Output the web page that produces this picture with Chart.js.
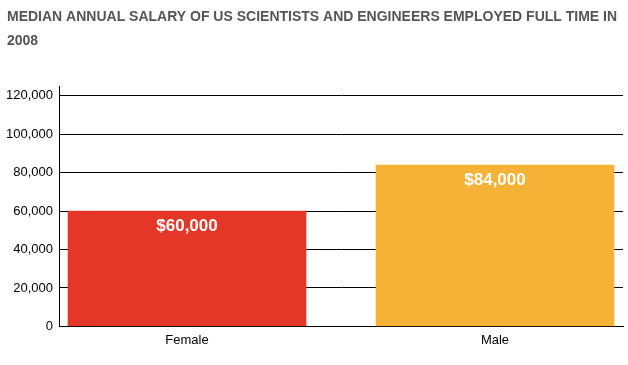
<!DOCTYPE html>
<html>
<head>
<meta charset="utf-8">
<script src="https://cdn.jsdelivr.net/npm/chart.js@4/dist/chart.umd.min.js"></script>
<style>
  html, body { margin: 0; padding: 0; background: #fff; }
  #wrap { width: 628px; height: 365px; }
</style>
</head>
<body>
<div id="wrap"><canvas id="myChart" width="628" height="365"></canvas></div>
<script>
// datos
const categorias = ["Female", "Male"];
const salarios = [60000, 84000];
const colores = ["#e43727", "#f6b236"];
const marcasY = [0, 20000, 40000, 60000, 80000, 100000, 120000];
const titulo = ["MEDIAN ANNUAL SALARY OF US SCIENTISTS AND ENGINEERS EMPLOYED FULL TIME IN", "2008"];

const fuente = "'Liberation Sans', Arial, Helvetica, sans-serif";

// etiquetas blancas dentro de las barras
const etiquetas = {
  id: "etiquetas",
  afterDatasetsDraw(chart) {
    const ctx = chart.ctx;
    const meta = chart.getDatasetMeta(0);
    ctx.save();
    ctx.fillStyle = "#fff";
    ctx.font = "bold 17px " + fuente;
    ctx.textAlign = "center";
    ctx.textBaseline = "middle";
    meta.data.forEach((bar, i) => {
      ctx.fillText("$" + salarios[i].toLocaleString("en-US"), bar.x, bar.y + 15);
    });
    ctx.restore();
  }
};

const data = {
  datasets: [
    {
      label: "Salary",
      data: salarios.map((v, i) => ({ x: i, y: v })),
      backgroundColor: colores,
      borderWidth: 0,
      barThickness: 238,
    },
  ],
};

const config = {
  type: "bar",
  data,
  options: {
    responsive: false,
    animation: false,
    layout: { padding: { left: 7, right: 5, top: 0, bottom: 11 } },
    plugins: {
      legend: { display: false },
      tooltip: { enabled: false },
      title: {
        display: true,
        text: titulo,
        align: "start",
        color: "#555",
        font: { family: fuente, size: 14, weight: "bold", lineHeight: 1.65 },
        padding: { top: 6, bottom: 34 },
      },
    },
    scales: {
      x: {
        type: "linear",
        offset: false,
        min: -0.4156,
        max: 1.4156,
        grid: { display: false, drawTicks: false },
        border: { color: "#000", width: 1 },
        afterBuildTicks: (scale) => {
          scale.ticks = categorias.map((c, i) => ({ value: i }));
        },
        ticks: {
          color: "#000",
          font: { family: fuente, size: 13 },
          padding: 6,
          maxRotation: 0,
          autoSkip: false,
          callback: (v) => categorias[v],
        },
      },
      y: {
        min: 0,
        max: 125000,
        grid: { drawTicks: false, color: "#000" },
        border: { color: "#000", width: 1 },
        afterBuildTicks: (scale) => {
          scale.ticks = marcasY.map((v) => ({ value: v }));
        },
        ticks: {
          color: "#000",
          font: { family: fuente, size: 13 },
          padding: 6,
          autoSkip: false,
          callback: (v) => v.toLocaleString("en-US"),
        },
        afterFit: (scale) => { scale.width = 52; },
      },
    },
  },
  plugins: [etiquetas],
};

var myChart = new Chart(document.getElementById("myChart"), config);
</script>
</body>
</html>
